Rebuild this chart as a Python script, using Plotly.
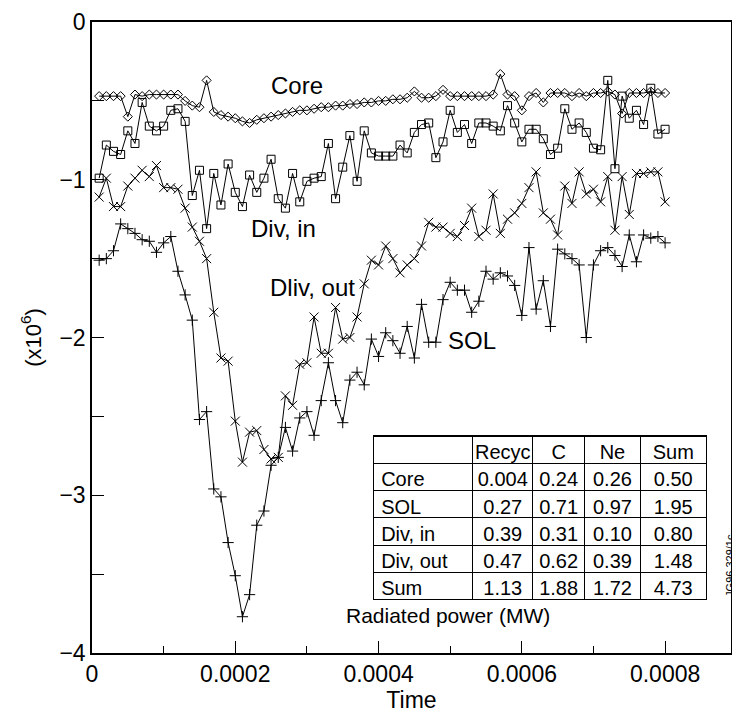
import plotly.graph_objects as go

# ---------------- data ----------------
step_index = list(range(1, 81))
time_step = 1e-5

core = [-0.47, -0.47, -0.47, -0.47, -0.60, -0.46, -0.47, -0.46, -0.46, -0.46,
        -0.46, -0.46, -0.50, -0.53, -0.54, -0.37, -0.57, -0.59, -0.60, -0.61,
        -0.63, -0.64, -0.62, -0.61, -0.60, -0.59, -0.58, -0.57, -0.56, -0.56,
        -0.55, -0.54, -0.54, -0.53, -0.53, -0.52, -0.52, -0.51, -0.51, -0.50,
        -0.50, -0.49, -0.49, -0.48, -0.44, -0.48, -0.48, -0.47, -0.43, -0.47,
        -0.47, -0.47, -0.47, -0.47, -0.47, -0.46, -0.33, -0.46, -0.47, -0.56,
        -0.47, -0.45, -0.51, -0.45, -0.45, -0.45, -0.47, -0.45, -0.47, -0.45,
        -0.45, -0.44, -0.46, -0.58, -0.45, -0.45, -0.45, -0.44, -0.45, -0.45]

div_in = [-0.99, -0.78, -0.82, -0.84, -0.69, -0.77, -0.51, -0.66, -0.69, -0.66,
          -0.56, -0.55, -0.63, -1.10, -0.94, -1.31, -0.96, -1.16, -0.90, -1.08,
          -1.17, -0.97, -1.08, -0.99, -0.87, -1.12, -1.18, -0.96, -1.14, -1.01,
          -0.99, -0.98, -0.77, -1.12, -0.92, -0.72, -1.01, -0.69, -0.83, -0.85,
          -0.85, -0.85, -0.78, -0.83, -0.70, -0.65, -0.64, -0.86, -0.76, -0.56,
          -0.70, -0.65, -0.77, -0.64, -0.64, -0.66, -0.69, -0.53, -0.64, -0.76,
          -0.68, -0.68, -0.74, -0.84, -0.80, -0.55, -0.68, -0.64, -0.70, -0.80,
          -0.81, -0.37, -0.93, -0.47, -0.61, -0.56, -0.65, -0.42, -0.71, -0.68]

div_out = [-1.11, -0.99, -1.17, -1.17, -1.04, -0.99, -0.94, -0.98, -0.91, -1.05,
           -1.05, -1.06, -1.18, -1.30, -1.39, -1.50, -1.84, -2.13, -2.15, -2.53,
           -2.79, -2.60, -2.59, -2.71, -2.77, -2.76, -2.37, -2.43, -2.17, -2.16,
           -1.87, -2.10, -2.10, -1.81, -2.01, -2.00, -1.87, -1.66, -1.51, -1.54,
           -1.42, -1.50, -1.59, -1.54, -1.50, -1.42, -1.27, -1.30, -1.30, -1.34,
           -1.36, -1.29, -1.18, -1.36, -1.32, -1.09, -1.34, -1.25, -1.21, -1.15,
           -1.05, -0.95, -1.21, -1.25, -1.35, -1.04, -1.15, -0.95, -1.09, -1.06,
           -1.14, -0.98, -1.32, -0.98, -1.22, -0.96, -0.96, -0.95, -0.95, -1.14]

sol = [-1.51, -1.50, -1.45, -1.28, -1.31, -1.34, -1.38, -1.39, -1.46, -1.40,
       -1.36, -1.58, -1.73, -1.89, -2.52, -2.47, -2.96, -3.01, -3.30, -3.51,
       -3.77, -3.63, -3.19, -3.10, -2.81, -2.76, -2.57, -2.72, -2.51, -2.47,
       -2.62, -2.40, -2.16, -2.40, -2.54, -2.27, -2.22, -2.30, -2.01, -2.12,
       -1.97, -2.02, -2.10, -1.93, -2.13, -1.79, -2.03, -2.03, -1.76, -1.65,
       -1.70, -1.70, -1.84, -1.77, -1.58, -1.63, -1.59, -1.61, -1.67, -1.86,
       -1.43, -1.82, -1.64, -1.93, -1.44, -1.47, -1.50, -1.54, -2.00, -1.54,
       -1.45, -1.43, -1.48, -1.55, -1.35, -1.52, -1.35, -1.37, -1.36, -1.40]

x_tick_vals = [0, 0.0002, 0.0004, 0.0006, 0.0008]
x_tick_text = ["0", "0.0002", "0.0004", "0.0006", "0.0008"]
y_tick_vals = [0, -1, -2, -3, -4]

table_header = [" ", "Recyc", "C", "Ne", "Sum"]
table_rows = ["Core", "SOL", "Div, in", "Div, out", "Sum"]
col_recyc = ["0.004", "0.27", "0.39", "0.47", "1.13"]
col_c = ["0.24", "0.71", "0.31", "0.62", "1.88"]
col_ne = ["0.26", "0.97", "0.10", "0.39", "1.72"]
col_sum = ["0.50", "1.95", "0.80", "1.48", "4.73"]

series_labels = ["Core", "Div, in", "Dliv, out", "SOL"]
label_pos = [(0.000286, -0.40), (0.000268, -1.31), (0.000308, -1.68), (0.000530, -2.02)]

# ---------------- figure ----------------
t = [i * time_step for i in step_index]
FONT = "Liberation Sans, Arial, Helvetica, sans-serif"

fig = go.Figure()

def add_series(y, symbol, size):
    fig.add_trace(go.Scatter(
        x=t, y=y, mode="lines+markers",
        line=dict(color="black", width=1),
        marker=dict(symbol=symbol, size=size, color="black",
                    line=dict(color="black", width=1)),
        showlegend=False, hoverinfo="skip"))

add_series(sol, "cross-thin", 8)
add_series(div_out, "x-thin", 9)
add_series(div_in, "square-open", 8)
add_series(core, "diamond-open", 7)

fig.add_trace(go.Table(
    domain=dict(x=[0.44, 0.962], y=[0.083, 0.344]),
    columnwidth=[100, 60, 52, 56, 66],
    header=dict(values=table_header, height=27.3,
                align=["left", "center", "center", "center", "center"],
                line=dict(color="black", width=1.2), fill=dict(color="white"),
                font=dict(family=FONT, size=20, color="black")),
    cells=dict(values=[table_rows, col_recyc, col_c, col_ne, col_sum], height=27.3,
               align=["left", "center", "center", "center", "center"],
               line=dict(color="black", width=1.2), fill=dict(color="white"),
               font=dict(family=FONT, size=20, color="black"))))

for txt, (lx, ly) in zip(series_labels, label_pos):
    fig.add_annotation(x=lx, y=ly, text=txt, showarrow=False,
                       font=dict(family=FONT, size=24, color="black"))

fig.add_annotation(xref="paper", yref="paper", x=0.72, y=0.038,
                   text="Radiated power (MW)", showarrow=False,
                   font=dict(family=FONT, size=21, color="black"))
fig.add_annotation(xref="paper", yref="paper", x=1.011, y=0.085,
                   text="JG96.329/1c", showarrow=False, textangle=-90,
                   font=dict(family=FONT, size=11, color="black"))

fig.update_layout(
    width=740, height=718,
    margin=dict(l=84, r=17, t=14, b=73, autoexpand=False),
    paper_bgcolor="white", plot_bgcolor="white",
    font=dict(family=FONT, size=23, color="black"),
    xaxis=dict(range=[0, 0.000892], tickvals=x_tick_vals, ticktext=x_tick_text,
               ticks="inside", ticklen=12, tickwidth=1, tickcolor="black",
               minor=dict(dtick=0.0001, ticks="inside", ticklen=7, tickcolor="black"),
               showline=True, linecolor="black", linewidth=1.5, mirror=True,
               showgrid=False, zeroline=False, automargin=False,
               tickfont=dict(size=23),
               title=dict(text="Time", standoff=6, font=dict(size=23))),
    yaxis=dict(range=[-4, 0], tickvals=y_tick_vals,
               ticks="inside", ticklen=12, tickwidth=1, tickcolor="black",
               minor=dict(dtick=0.5, ticks="inside", ticklen=12, tickcolor="black"),
               showline=True, linecolor="black", linewidth=1.5, mirror=True,
               showgrid=False, zeroline=False, automargin=False,
               tickfont=dict(size=23),
               title=dict(text="(x10<sup>6</sup>)", standoff=12, font=dict(size=22))),
)

fig.write_html("out.html")
